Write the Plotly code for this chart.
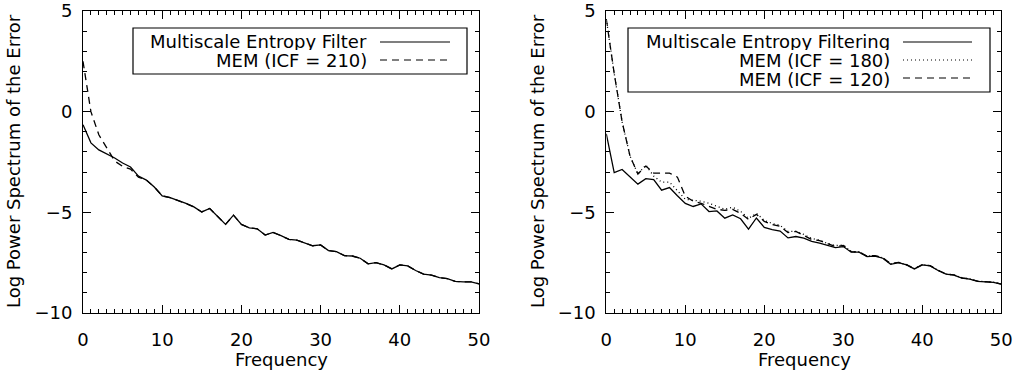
import plotly.graph_objects as go

W, H = 1016, 377

freq = list(range(51))

left_mef = [-0.65, -1.55, -1.9, -2.1, -2.3, -2.55, -2.75, -3.2, -3.4, -3.74,
            -4.18, -4.27, -4.4, -4.56, -4.73, -4.98, -4.81, -5.19, -5.6, -5.14,
            -5.6, -5.77, -5.82, -6.13, -6.0, -6.16, -6.34, -6.38, -6.51, -6.66,
            -6.62, -6.9, -6.95, -7.15, -7.17, -7.28, -7.56, -7.5, -7.61, -7.81,
            -7.61, -7.66, -7.89, -8.07, -8.12, -8.24, -8.29, -8.43, -8.45, -8.45,
            -8.55]
left_mem210 = [2.5, 0.0, -1.15, -1.8, -2.45, -2.72, -2.85, -3.25, -3.4, -3.74,
               -4.18, -4.27, -4.4, -4.56, -4.73, -4.98, -4.81, -5.19, -5.6, -5.14,
               -5.6, -5.77, -5.82, -6.13, -6.0, -6.16, -6.34, -6.38, -6.51, -6.66,
               -6.62, -6.9, -6.95, -7.15, -7.17, -7.28, -7.56, -7.5, -7.61, -7.81,
               -7.61, -7.66, -7.89, -8.07, -8.12, -8.24, -8.29, -8.43, -8.45, -8.45,
               -8.55]

right_mef = [-1.1, -3.03, -2.87, -3.25, -3.6, -3.33, -3.38, -3.9, -3.77, -4.18,
             -4.56, -4.71, -4.58, -4.96, -4.93, -5.29, -5.13, -5.32, -5.83, -5.28,
             -5.75, -5.86, -5.93, -6.27, -6.2, -6.28, -6.44, -6.53, -6.65, -6.75,
             -6.7, -6.98, -6.98, -7.2, -7.17, -7.28, -7.58, -7.5, -7.61, -7.81,
             -7.61, -7.66, -7.89, -8.07, -8.12, -8.27, -8.32, -8.43, -8.45, -8.48,
             -8.57]
right_mem180 = [4.6, 1.9, -0.5, -2.2, -3.1, -2.65, -3.2, -3.5, -3.5, -3.9,
                -4.35, -4.4, -4.45, -4.55, -4.7, -4.85, -4.75, -4.95, -5.3, -5.05,
                -5.4, -5.55, -5.65, -5.95, -5.95, -6.1, -6.3, -6.38, -6.55, -6.65,
                -6.62, -6.96, -6.97, -7.18, -7.15, -7.27, -7.56, -7.49, -7.6, -7.8,
                -7.6, -7.65, -7.88, -8.06, -8.11, -8.25, -8.31, -8.42, -8.44, -8.47,
                -8.56]
right_mem120 = [4.6, 1.9, -0.5, -2.2, -3.1, -2.7, -3.05, -3.05, -3.05, -3.25,
                -4.2, -4.45, -4.55, -4.7, -4.85, -4.9, -4.85, -5.05, -5.35, -5.1,
                -5.45, -5.6, -5.7, -6.0, -5.95, -6.15, -6.35, -6.4, -6.55, -6.7,
                -6.65, -6.95, -6.97, -7.17, -7.15, -7.26, -7.55, -7.49, -7.6, -7.8,
                -7.6, -7.65, -7.88, -8.06, -8.11, -8.25, -8.31, -8.42, -8.44, -8.47,
                -8.56]

x_ticks = [0, 10, 20, 30, 40, 50]
y_ticks = [-10, -5, 0, 5]

FONT = "DejaVu Sans"
FS = 18
DASH = "7px,5px"
DOT = "1px,3px"


def px(x):
    return x / W


def py(y):
    return 1 - y / H


fig = go.Figure()

line_w = 1.3
fig.add_trace(go.Scatter(x=freq, y=left_mem210, mode="lines",
                         line=dict(color="black", width=line_w, dash=DASH),
                         xaxis="x", yaxis="y", showlegend=False))
fig.add_trace(go.Scatter(x=freq, y=left_mef, mode="lines",
                         line=dict(color="black", width=line_w),
                         xaxis="x", yaxis="y", showlegend=False))
fig.add_trace(go.Scatter(x=freq, y=right_mem120, mode="lines",
                         line=dict(color="black", width=line_w, dash=DASH),
                         xaxis="x2", yaxis="y2", showlegend=False))
fig.add_trace(go.Scatter(x=freq, y=right_mem180, mode="lines",
                         line=dict(color="black", width=line_w, dash=DOT),
                         xaxis="x2", yaxis="y2", showlegend=False))
fig.add_trace(go.Scatter(x=freq, y=right_mef, mode="lines",
                         line=dict(color="black", width=line_w),
                         xaxis="x2", yaxis="y2", showlegend=False))

ydom = [py(313), py(11)]
common_x = dict(range=[0, 50], tickvals=x_ticks, ticks="inside", ticklen=8,
                tickwidth=1, tickcolor="black", showline=True, linecolor="black",
                linewidth=1, mirror="allticks", showgrid=False, zeroline=False,
                automargin=False, ticklabelstandoff=10,
                tickfont=dict(family=FONT, size=FS, color="black"),
                minor=dict(dtick=1, ticks="inside", ticklen=4, tickcolor="black",
                           showgrid=False),
                fixedrange=True)
common_y = dict(range=[-10, 5], tickvals=y_ticks, ticks="inside", ticklen=8,
                tickwidth=1, tickcolor="black", showline=True, linecolor="black",
                linewidth=1, mirror="allticks", showgrid=False, zeroline=False,
                automargin=False, ticklabelstandoff=6,
                tickfont=dict(family=FONT, size=FS, color="black"),
                minor=dict(dtick=1, ticks="inside", ticklen=4, tickcolor="black",
                           showgrid=False),
                domain=ydom, fixedrange=True)

fig.update_layout(
    width=W, height=H,
    margin=dict(l=0, r=0, t=0, b=0, autoexpand=False),
    paper_bgcolor="white", plot_bgcolor="white",
    font=dict(family=FONT, size=FS, color="black"),
    xaxis=dict(domain=[px(83), px(479)], anchor="y", **common_x),
    yaxis=dict(anchor="x", **common_y),
    xaxis2=dict(domain=[px(606.3), px(1001.3)], anchor="y2", **common_x),
    yaxis2=dict(anchor="x2", **common_y),
)

ann = []
shapes = []
ytitle = "Log Power Spectrum of the Error"
for cx in (13, 537):
    ann.append(dict(text=ytitle, x=px(cx), y=py(161), xref="paper", yref="paper",
                    textangle=-90, showarrow=False, xanchor="center", yanchor="middle",
                    font=dict(family=FONT, size=FS, color="black")))
for cx in (281, 804):
    ann.append(dict(text="Frequency", x=px(cx), y=py(359), xref="paper", yref="paper",
                    showarrow=False, xanchor="center", yanchor="middle",
                    font=dict(family=FONT, size=FS, color="black")))

# legends
legends = [
    dict(box=(133, 28, 467, 74), text_right=368, line=(380, 450),
         rows=[("Multiscale Entropy Filter", 40.5, 42, None),
               ("MEM (ICF = 210)", 59.5, 60, DASH)]),
    dict(box=(628, 28, 990, 92), text_right=891, line=(903, 972),
         rows=[("Multiscale Entropy Filtering", 40.5, 42, None),
               ("MEM (ICF = 180)", 59.5, 60, DOT),
               ("MEM (ICF = 120)", 78.5, 78, DASH)]),
]
for lg in legends:
    x0, y0, x1, y1 = lg["box"]
    shapes.append(dict(type="rect", xref="paper", yref="paper",
                       x0=px(x0), x1=px(x1), y0=py(y1), y1=py(y0),
                       line=dict(color="black", width=1.2), fillcolor="white",
                       layer="above"))
    for txt, ty, ly, dash in lg["rows"]:
        ann.append(dict(text=txt, x=px(lg["text_right"]), y=py(ty + 1), xref="paper",
                        yref="paper", showarrow=False, xanchor="right",
                        yanchor="middle", height=17, borderpad=0, valign="middle",
                        font=dict(family=FONT, size=FS, color="black")))
        ld = dict(color="black", width=1.2)
        if dash:
            ld["dash"] = dash
        shapes.append(dict(type="line", xref="paper", yref="paper",
                           x0=px(lg["line"][0]), x1=px(lg["line"][1]),
                           y0=py(ly), y1=py(ly), line=ld, layer="above"))

fig.update_layout(annotations=ann, shapes=shapes)

fig.write_html("out.html")
